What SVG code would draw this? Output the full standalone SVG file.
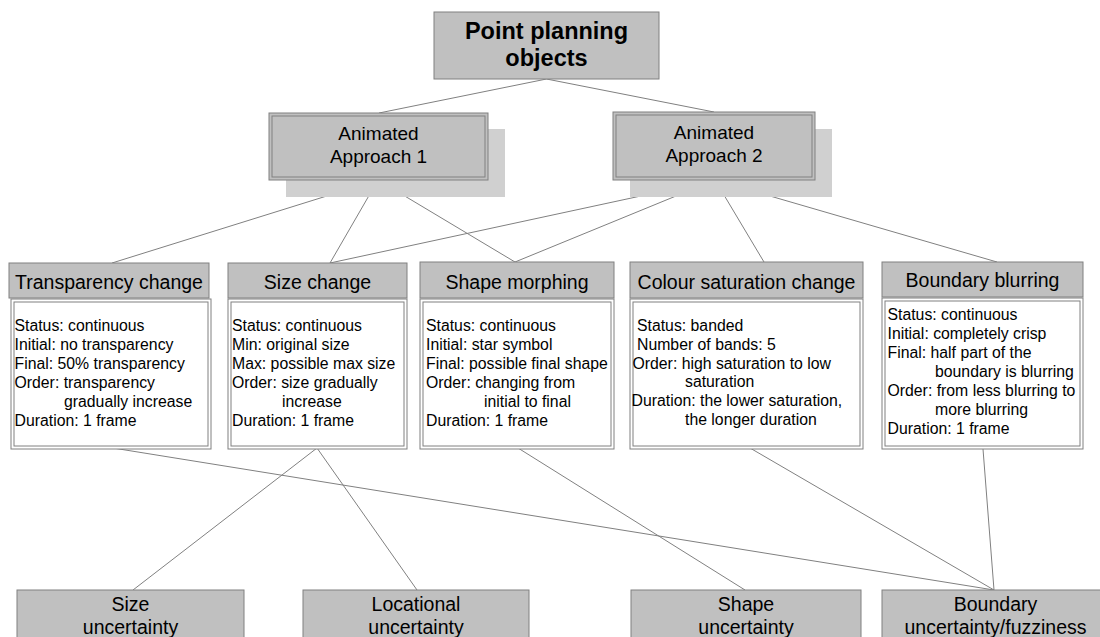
<svg xmlns="http://www.w3.org/2000/svg" width="1100" height="637" viewBox="0 0 1100 637">
  <style>
    .hdr { fill: #c0c0c0; stroke: #808080; stroke-width: 1; }
    .shadow { fill: #d0d0d0; stroke: none; }
    .body { fill: #ffffff; stroke: #808080; stroke-width: 1; }
    .inner { fill: none; stroke: #808080; stroke-width: 1; }
    .link { stroke: #808080; stroke-width: 1; fill: none; }
    text { font-family: "Liberation Sans", Arial, sans-serif; fill: #000; }
    .title { font-size: 23.5px; font-weight: bold; text-anchor: middle; }
    .mid { font-size: 19px; text-anchor: middle; }
    .head { font-size: 19.5px; text-anchor: middle; }
    .item { font-size: 15.8px; }
  </style>

  <!-- connectors -->
  <g id="connectors">
    <line class="link" x1="546.5" y1="79" x2="379" y2="113"/>
    <line class="link" x1="546.5" y1="79" x2="714" y2="112"/>
    <line class="link" x1="378" y1="180" x2="112" y2="263"/>
    <line class="link" x1="378" y1="180" x2="330" y2="263"/>
    <line class="link" x1="378" y1="180" x2="515" y2="262"/>
    <line class="link" x1="715" y1="180" x2="330" y2="263"/>
    <line class="link" x1="715" y1="180" x2="515" y2="262"/>
    <line class="link" x1="715" y1="180" x2="764" y2="262"/>
    <line class="link" x1="715" y1="180" x2="997" y2="262"/>
    <line class="link" x1="113" y1="448" x2="994" y2="590"/>
    <line class="link" x1="317" y1="448" x2="133" y2="590"/>
    <line class="link" x1="317" y1="448" x2="417" y2="590"/>
    <line class="link" x1="518" y1="448" x2="745" y2="590"/>
    <line class="link" x1="750" y1="448" x2="994" y2="590"/>
    <line class="link" x1="983" y1="449" x2="994" y2="590"/>
  </g>

  <!-- root -->
  <g id="point-planning-objects">
    <rect class="hdr" x="434" y="12" width="225" height="67"/>
    <text class="title" x="546.5" y="39">Point planning</text>
    <text class="title" x="546.5" y="66">objects</text>
  </g>

  <!-- approaches -->
  <g id="animated-approach-1">
    <rect class="shadow" x="286" y="129" width="219" height="68"/>
    <rect class="hdr" x="269" y="113" width="219" height="67"/>
    <rect class="inner" x="272" y="116" width="213" height="61"/>
    <text class="mid" x="378.5" y="139.5">Animated</text>
    <text class="mid" x="378.5" y="162.5">Approach 1</text>
  </g>
  <g id="animated-approach-2">
    <rect class="shadow" x="630" y="129" width="202" height="68"/>
    <rect class="hdr" x="613" y="112" width="202" height="68"/>
    <rect class="inner" x="616" y="115" width="196" height="62"/>
    <text class="mid" x="714" y="139">Animated</text>
    <text class="mid" x="714" y="162">Approach 2</text>
  </g>

  <!-- techniques -->
  <g id="transparency-change">
    <rect class="hdr" x="9" y="263" width="200" height="35"/>
    <text class="head" x="109" y="289">Transparency change</text>
    <rect class="body" x="11" y="299" width="200" height="150"/>
    <rect class="inner" x="14" y="302" width="194" height="144"/>
    <text class="item" x="14.5" y="331">Status: continuous</text>
    <text class="item" x="14.5" y="350">Initial: no transparency</text>
    <text class="item" x="14.5" y="369">Final: 50% transparency</text>
    <text class="item" x="14.5" y="388">Order: transparency</text>
    <text class="item" x="64" y="407">gradually increase</text>
    <text class="item" x="14.5" y="426">Duration: 1 frame</text>
  </g>

  <g id="size-change">
    <rect class="hdr" x="228" y="263" width="179" height="35"/>
    <text class="head" x="317.5" y="289">Size change</text>
    <rect class="body" x="228" y="299" width="179" height="150"/>
    <rect class="inner" x="231" y="302" width="173" height="144"/>
    <text class="item" x="232" y="331">Status: continuous</text>
    <text class="item" x="232" y="350">Min: original size</text>
    <text class="item" x="232" y="369">Max: possible max size</text>
    <text class="item" x="232" y="388">Order: size gradually</text>
    <text class="item" x="282" y="407">increase</text>
    <text class="item" x="232" y="426">Duration: 1 frame</text>
  </g>

  <g id="shape-morphing">
    <rect class="hdr" x="420" y="262" width="194" height="36"/>
    <text class="head" x="517" y="289">Shape morphing</text>
    <rect class="body" x="420" y="299" width="194" height="150"/>
    <rect class="inner" x="423" y="302" width="188" height="144"/>
    <text class="item" x="426" y="331">Status: continuous</text>
    <text class="item" x="426" y="350">Initial: star symbol</text>
    <text class="item" x="426" y="369">Final: possible final shape</text>
    <text class="item" x="426" y="388">Order: changing from</text>
    <text class="item" x="484" y="407">initial to final</text>
    <text class="item" x="426" y="426">Duration: 1 frame</text>
  </g>

  <g id="colour-saturation-change">
    <rect class="hdr" x="630" y="262" width="233" height="36"/>
    <text class="head" x="746.5" y="289">Colour saturation change</text>
    <rect class="body" x="630" y="299" width="233" height="150"/>
    <rect class="inner" x="633" y="302" width="227" height="144"/>
    <text class="item" x="637" y="331">Status: banded</text>
    <text class="item" x="637" y="350">Number of bands: 5</text>
    <text class="item" x="632.5" y="368.5">Order: high saturation to low</text>
    <text class="item" x="685" y="387">saturation</text>
    <text class="item" x="631.5" y="406">Duration: the lower saturation,</text>
    <text class="item" x="685" y="424.5">the longer duration</text>
  </g>

  <g id="boundary-blurring">
    <rect class="hdr" x="882" y="262" width="201" height="35"/>
    <text class="head" x="982.5" y="286.5">Boundary blurring</text>
    <rect class="body" x="882" y="298" width="201" height="151"/>
    <rect class="inner" x="885" y="301" width="195" height="145"/>
    <text class="item" x="887.5" y="319.5">Status: continuous</text>
    <text class="item" x="887.5" y="338.5">Initial: completely crisp</text>
    <text class="item" x="887.5" y="357.5">Final: half part of the</text>
    <text class="item" x="935" y="376.5">boundary is blurring</text>
    <text class="item" x="887.5" y="395.5">Order: from less blurring to</text>
    <text class="item" x="935" y="414.5">more blurring</text>
    <text class="item" x="887.5" y="433.5">Duration: 1 frame</text>
  </g>

  <!-- uncertainty types -->
  <g id="size-uncertainty">
    <rect class="hdr" x="17" y="590" width="227" height="60"/>
    <text class="head" x="130.5" y="611">Size</text>
    <text class="head" x="130.5" y="633.5">uncertainty</text>
  </g>
  <g id="locational-uncertainty">
    <rect class="hdr" x="303" y="590" width="226" height="60"/>
    <text class="head" x="416" y="611">Locational</text>
    <text class="head" x="416" y="633.5">uncertainty</text>
  </g>
  <g id="shape-uncertainty">
    <rect class="hdr" x="631" y="590" width="230" height="60"/>
    <text class="head" x="746" y="611">Shape</text>
    <text class="head" x="746" y="633.5">uncertainty</text>
  </g>
  <g id="boundary-uncertainty">
    <rect class="hdr" x="882" y="590" width="227" height="60"/>
    <text class="head" x="995.5" y="611">Boundary</text>
    <text class="head" x="995.5" y="633.5">uncertainty/fuzziness</text>
  </g>
</svg>
